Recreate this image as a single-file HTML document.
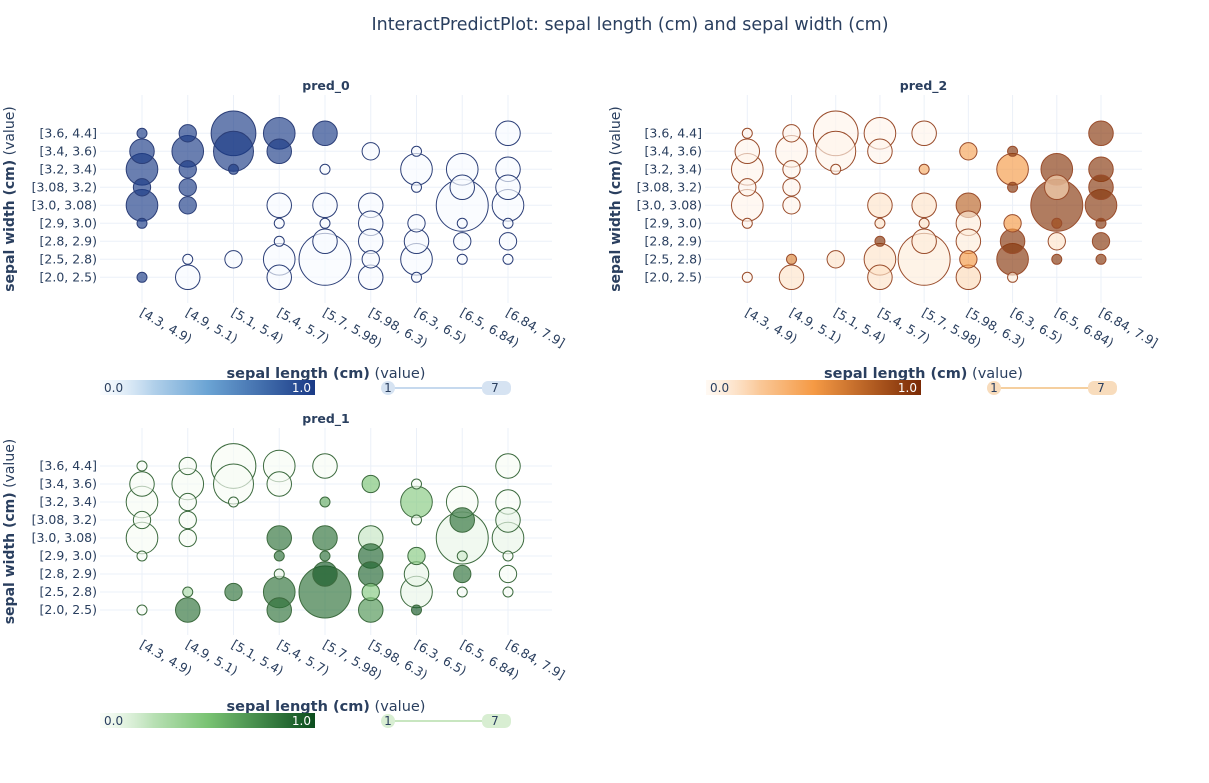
<!DOCTYPE html>
<html><head><meta charset="utf-8">
<style>
body{margin:0;background:#fff;}
svg text{font-family:"DejaVu Sans","Liberation Sans",sans-serif;fill:#2a3f5f;}
</style></head>
<body>
<svg id="chart" width="1209" height="778" viewBox="0 0 1209 778" xmlns="http://www.w3.org/2000/svg">
<text x="630" y="30" text-anchor="middle" font-size="17.5">InteractPredictPlot: sepal length (cm) and sepal width (cm)</text>
</svg>
<script>
const xCats=["[4.3, 4.9)","[4.9, 5.1)","[5.1, 5.4)","[5.4, 5.7)","[5.7, 5.98)","[5.98, 6.3)","[6.3, 6.5)","[6.5, 6.84)","[6.84, 7.9]"];
const yCats=["[2.0, 2.5)","[2.5, 2.8)","[2.8, 2.9)","[2.9, 3.0)","[3.0, 3.08)","[3.08, 3.2)","[3.2, 3.4)","[3.4, 3.6)","[3.6, 4.4]"];
const cellX=[0,0,0,0,0,0,0, 1,1,1,1,1,1,1, 2,2,2,2, 3,3,3,3,3,3,3, 4,4,4,4,4,4, 5,5,5,5,5,5, 6,6,6,6,6,6,6, 7,7,7,7,7,7, 8,8,8,8,8,8,8];
const cellY=[8,7,6,5,4,3,0, 8,7,6,5,4,1,0, 8,7,6,1, 8,7,4,3,2,1,0, 8,6,4,3,2,1, 7,4,3,2,1,0, 7,6,5,3,2,1,0, 6,5,4,3,2,1, 8,6,5,4,3,2,1];
const counts=[1,6,10,3,10,1,1, 3,10,3,3,3,1,6, 20,16,1,3, 10,6,6,1,1,10,6, 6,1,6,1,6,27, 3,6,6,6,3,6, 1,10,1,3,6,10,1, 10,6,27,1,3,1, 6,6,6,10,1,3,1];
const pred0=[1,1,1,1,1,1,1, 1,1,1,1,1,0,0, 1,1,1,0, 1,1,0,0,0,0,0, 1,0,0,0,0,0, 0,0,0,0,0,0, 0,0,0,0,0,0,0, 0,0,0,0,0,0, 0,0,0,0,0,0,0];
const pred1=[0,0,0,0,0,0,0, 0,0,0,0,0,0.3,0.85, 0,0,0,0.85, 0,0,0.85,0.85,0.05,0.85,0.85, 0,0.6,0.85,0.85,0.95,0.85, 0.5,0.2,0.9,0.9,0.45,0.7, 0,0.45,0,0.45,0.05,0.05,0.95, 0,0.85,0.05,0.15,0.85,0, 0,0,0.05,0.05,0,0,0];
const pred2=[0,0,0,0,0,0,0, 0,0,0,0,0,0.6,0.1, 0,0,0,0.1, 0,0,0.1,0.1,0.95,0.1,0.1, 0,0.4,0.1,0.1,0.05,0.05, 0.45,0.75,0.05,0.05,0.5,0.15, 0.95,0.5,0.95,0.5,0.95,0.95,0.05, 0.95,0.15,0.95,0.85,0.1,0.95, 0.95,0.95,0.95,0.95,0.95,0.95,0.95];

const NS="http://www.w3.org/2000/svg";
const svg=document.getElementById('chart');
function mk(tag,attrs,parent){const e=document.createElementNS(NS,tag);for(const k in attrs)e.setAttribute(k,attrs[k]);(parent||svg).appendChild(e);return e;}
function hex(h){return [parseInt(h.substr(1,2),16),parseInt(h.substr(3,2),16),parseInt(h.substr(5,2),16)];}
function interp(stops,v){for(let i=1;i<stops.length;i++){if(v<=stops[i][0]){const a=stops[i-1],b=stops[i];const t=(v-a[0])/(b[0]-a[0]);const ca=hex(a[1]),cb=hex(b[1]);return 'rgb('+ca.map((c,j)=>Math.round(c+(cb[j]-c)*t)).join(',')+')';}}return stops[stops.length-1][1];}

const panels=[
 {name:'pred-0',title:'pred_0',vals:pred0,x0:142,x1:508,yTop:133.3,yBot:277.3,pl:100,pr:552,pt:95,pb:303,
  scale:[[0,'#f7fbff'],[0.5,'#6ba4d4'],[1,'#1a3a86']],stroke:'#2c3f78',cbX:100,cbY:380,sl:'#c6d9ee',slFill:'#d6e3f2',ytX:8},
 {name:'pred-2',title:'pred_2',vals:pred2,x0:747.3,x1:1101,yTop:133.3,yBot:277.3,pl:705,pr:1142,pt:95,pb:303,
  scale:[[0,'#fff5eb'],[0.5,'#f59a45'],[1,'#7a2a05']],stroke:'#9a4d2c',cbX:706,cbY:380,sl:'#f5cf9f',slFill:'#f8dcbc',ytX:614},
 {name:'pred-1',title:'pred_1',vals:pred1,x0:142,x1:508,yTop:466,yBot:610,pl:100,pr:552,pt:428,pb:635,
  scale:[[0,'#f7fcf5'],[0.5,'#79c373'],[1,'#0b4d1e']],stroke:'#3d6b3f',cbX:100,cbY:713,sl:'#c8e6c0',slFill:'#d8eed2',ytX:8}
];

panels.forEach((p,pi)=>{
  const g=mk('g',{});
  
  
  const xs=i=>p.x0+(p.x1-p.x0)*i/(xCats.length-1);
  const ys=j=>p.yBot-(p.yBot-p.yTop)*j/(yCats.length-1);
  xCats.forEach((c,i)=>{const l=mk('line',{x1:xs(i),x2:xs(i),y1:p.pt,y2:p.pb,stroke:'#ebf0f8','stroke-width':1},g);
    });
  yCats.forEach((c,j)=>{const l=mk('line',{x1:p.pl,x2:p.pr,y1:ys(j),y2:ys(j),stroke:'#ebf0f8','stroke-width':1},g);
    });
  const idx=counts.map((c,k)=>k).sort((a,b)=>counts[b]-counts[a]);
  idx.forEach(k=>{
    const v=p.vals[k];
    const c=mk('circle',{cx:xs(cellX[k]),cy:ys(cellY[k]),r:5*Math.sqrt(counts[k]),fill:interp(p.scale,v),'fill-opacity':0.65,stroke:p.stroke,'stroke-width':1},g);
    
    
  });
  yCats.forEach((c,j)=>{const t=mk('text',{x:p.pl-3,y:ys(j)+4,'text-anchor':'end','font-size':12.5},g);t.textContent=c;
    });
  xCats.forEach((c,i)=>{const x=xs(i)-3,y=p.pb+12;const t=mk('text',{x:x,y:y,'font-size':12.5,transform:'rotate(30 '+x+' '+y+')'},g);t.textContent=c;
    });
  const cx=(p.pl+p.pr)/2;
  const st=mk('text',{x:cx,y:p.pt-5,'text-anchor':'middle','font-size':12.5,'font-weight':'bold'},g);st.textContent=p.title;
  
  const ym=(p.pt+p.pb)/2;
  const yt=mk('text',{x:p.ytX+6,y:ym,'text-anchor':'middle','font-size':14,transform:'rotate(-90 '+(p.ytX+6)+' '+ym+')'},g);
  
  const b1=mk('tspan',{'font-weight':'bold'},yt);b1.textContent='sepal width (cm)';const b2=mk('tspan',{},yt);b2.textContent=' (value)';
  const xt=mk('text',{x:cx,y:p.cbY-2,'text-anchor':'middle','font-size':14.5},g);
  
  const c1=mk('tspan',{'font-weight':'bold'},xt);c1.textContent='sepal length (cm)';const c2=mk('tspan',{},xt);c2.textContent=' (value)';
  const gid='grad'+pi;const defs=mk('defs',{},g);const lg=mk('linearGradient',{id:gid,x1:0,x2:1,y1:0,y2:0},defs);
  [0,0.25,0.5,0.75,1].forEach(o=>mk('stop',{offset:o,'stop-color':interp(p.scale,o),'stop-opacity':o==0?0.6:1},lg));
  const cb=mk('rect',{x:p.cbX,y:p.cbY,width:215,height:15,fill:'url(#'+gid+')'},g);
  
  const l0=mk('text',{x:p.cbX+4,y:p.cbY+12,'font-size':12},g);l0.textContent='0.0';
  
  const l1=mk('text',{x:p.cbX+211,y:p.cbY+12,'font-size':12,'text-anchor':'end',style:'fill:#fff'},g);l1.textContent='1.0';
  
  const sx=p.cbX+288, sy=p.cbY+8;
  const ln=mk('line',{x1:sx,x2:sx+96,y1:sy,y2:sy,stroke:p.sl,'stroke-width':2},g);
  
  const h1=mk('circle',{cx:sx,cy:sy,r:7,fill:p.slFill},g);
  
  const h2=mk('rect',{x:sx+94,y:sy-7,width:29,height:14,rx:6,fill:p.slFill},g);
  
  const s1=mk('text',{x:sx,y:sy+4,'text-anchor':'middle','font-size':12},g);s1.textContent='1';
  
  const s2=mk('text',{x:sx+107,y:sy+4,'text-anchor':'middle','font-size':12},g);s2.textContent='7';
  
});
</script>
</body></html>
